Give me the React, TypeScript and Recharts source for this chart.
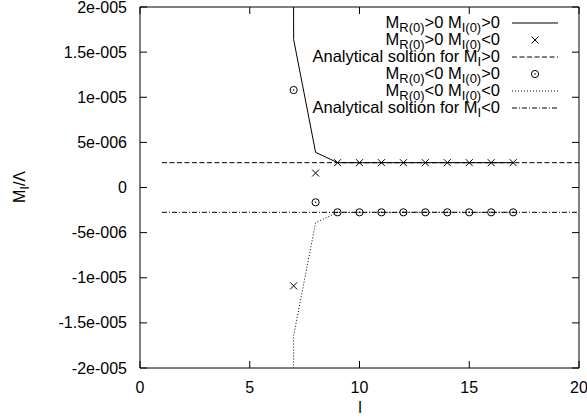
import { ComposedChart, Line, Scatter, XAxis, YAxis, ReferenceArea } from 'recharts';

const FONT = '"Liberation Sans", Arial, Helvetica, sans-serif';

// axis ticks
const xTicks = [0, 5, 10, 15, 20];
const xTickLabels = ['0', '5', '10', '15', '20'];
const yTicks = [-2e-5, -1.5e-5, -1e-5, -5e-6, 0, 5e-6, 1e-5, 1.5e-5, 2e-5];
const yTickLabels = ['-2e-005', '-1.5e-005', '-1e-005', '-5e-006', '0', '5e-006', '1e-005', '1.5e-005', '2e-005'];

// M_R(0)>0 M_I(0)>0 (solid), first point runs off the top
const ppL = [6, 7, 8, 9, 10, 11, 12, 13, 14, 15, 16, 17];
const ppV = [1e-3, 1.64e-5, 3.9e-6, 2.75e-6, 2.75e-6, 2.75e-6, 2.75e-6, 2.75e-6, 2.75e-6, 2.75e-6, 2.75e-6, 2.75e-6];

// M_R(0)>0 M_I(0)<0 (crosses)
const pnL = [7, 8, 9, 10, 11, 12, 13, 14, 15, 16, 17];
const pnV = [-1.09e-5, 1.6e-6, 2.75e-6, 2.75e-6, 2.75e-6, 2.75e-6, 2.75e-6, 2.75e-6, 2.75e-6, 2.75e-6, 2.75e-6];

// M_R(0)<0 M_I(0)>0 (circles)
const npL = [7, 8, 9, 10, 11, 12, 13, 14, 15, 16, 17];
const npV = [1.08e-5, -1.64e-6, -2.75e-6, -2.75e-6, -2.75e-6, -2.75e-6, -2.75e-6, -2.75e-6, -2.75e-6, -2.75e-6, -2.75e-6];

// M_R(0)<0 M_I(0)<0 (dotted)
const nnL = [6, 7, 8, 9, 10, 11, 12, 13, 14, 15, 16, 17];
const nnV = [-1e-3, -1.64e-5, -3.9e-6, -2.75e-6, -2.75e-6, -2.75e-6, -2.75e-6, -2.75e-6, -2.75e-6, -2.75e-6, -2.75e-6, -2.75e-6];

// analytical solutions
const anaL = [1, 20];
const anaPosV = [2.75e-6, 2.75e-6];
const anaNegV = [-2.75e-6, -2.75e-6];

const zip = (ls: number[], vs: number[]) => ls.map((l, i) => ({ l, v: vs[i] }));

const W = 587;
const H = 418;
const LEFT = 140;
const RIGHT = 579;
const TOP = 7;
const BOTTOM = 368;
const TICK = 7;

const Cross = ({ cx, cy }: any) => (
  <g stroke="#000" strokeWidth={1}>
    <line x1={cx - 3.5} y1={cy - 3.5} x2={cx + 3.5} y2={cy + 3.5} />
    <line x1={cx - 3.5} y1={cy + 3.5} x2={cx + 3.5} y2={cy - 3.5} />
  </g>
);

const DotCircle = ({ cx, cy }: any) => (
  <g>
    <circle cx={cx} cy={cy} r={3.6} fill="none" stroke="#000" strokeWidth={1} />
    <circle cx={cx} cy={cy} r={0.8} fill="#000" />
  </g>
);

const XTick = ({ x, index }: any) => (
  <g>
    <line x1={x} y1={BOTTOM} x2={x} y2={BOTTOM - TICK} stroke="#000" />
    <line x1={x} y1={TOP} x2={x} y2={TOP + TICK} stroke="#000" />
    <text x={x} y={BOTTOM + 25} textAnchor="middle" fontSize={16} fontFamily={FONT} fill="#000">
      {xTickLabels[index]}
    </text>
  </g>
);

const YTick = ({ y, index }: any) => (
  <g>
    <line x1={LEFT} y1={y} x2={LEFT + TICK} y2={y} stroke="#000" />
    <line x1={RIGHT} y1={y} x2={RIGHT - TICK} y2={y} stroke="#000" />
    <text x={LEFT - 13} y={y + 5.5} textAnchor="end" fontSize={16} fontFamily={FONT} fill="#000">
      {yTickLabels[index]}
    </text>
  </g>
);

const Sub = ({ children }: any) => (
  <>
    <tspan dy={4} fontSize={13}>{children}</tspan>
    <tspan dy={-4}>{'\u200b'}</tspan>
  </>
);

const legendRows = [
  { y: 23, kind: 'solid' },
  { y: 40, kind: 'cross' },
  { y: 57, kind: 'dash' },
  { y: 74, kind: 'circle' },
  { y: 91, kind: 'dot' },
  { y: 108, kind: 'dashdot' },
];

const rowText = (i: number) => {
  switch (i) {
    case 0:
      return (<>M<Sub>R(0)</Sub>&gt;0 M<Sub>I(0)</Sub>&gt;0</>);
    case 1:
      return (<>M<Sub>R(0)</Sub>&gt;0 M<Sub>I(0)</Sub>&lt;0</>);
    case 2:
      return (<>Analytical soltion for M<Sub>I</Sub>&gt;0</>);
    case 3:
      return (<>M<Sub>R(0)</Sub>&lt;0 M<Sub>I(0)</Sub>&gt;0</>);
    case 4:
      return (<>M<Sub>R(0)</Sub>&lt;0 M<Sub>I(0)</Sub>&lt;0</>);
    default:
      return (<>Analytical soltion for M<Sub>I</Sub>&lt;0</>);
  }
};

const dashFor: Record<string, string | undefined> = {
  solid: undefined,
  dash: '5 2.5',
  dot: '1 2',
  dashdot: '5 2 1 2',
};

export default function App() {
  return (
    <div style={{ position: 'absolute', left: 0, top: 0, width: W, height: H, background: '#fff' }}>
      <ComposedChart width={W} height={H} margin={{ top: TOP, right: W - RIGHT, bottom: 0, left: 0 }}>
        <XAxis
          dataKey="l"
          type="number"
          domain={[0, 20]}
          ticks={xTicks}
          height={H - BOTTOM}
          axisLine={false}
          tickLine={false}
          tickSize={0}
          tickMargin={0}
          tick={<XTick />}
          interval={0}
        />
        <YAxis
          dataKey="v"
          type="number"
          domain={[-2e-5, 2e-5]}
          ticks={yTicks}
          width={LEFT}
          allowDataOverflow
          axisLine={false}
          tickLine={false}
          tickSize={0}
          tickMargin={0}
          tick={<YTick />}
          interval={0}
        />
        <ReferenceArea x1={0} x2={20} y1={-2e-5} y2={2e-5} fill="none" fillOpacity={0} stroke="#000" strokeWidth={1} />
        <Line data={zip(anaL, anaPosV)} dataKey="v" stroke="#000" strokeWidth={1} strokeDasharray="5 2.5" dot={false} isAnimationActive={false} />
        <Line data={zip(anaL, anaNegV)} dataKey="v" stroke="#000" strokeWidth={1} strokeDasharray="5 2 1 2" dot={false} isAnimationActive={false} />
        <Line data={zip(ppL, ppV)} dataKey="v" stroke="#000" strokeWidth={1} dot={false} isAnimationActive={false} />
        <Line data={zip(nnL, nnV)} dataKey="v" stroke="#000" strokeWidth={1} strokeDasharray="1 2" dot={false} isAnimationActive={false} />
        <Scatter data={zip(pnL, pnV)} dataKey="v" shape={(p: any) => <Cross cx={p.cx} cy={p.cy} />} isAnimationActive={false} />
        <Scatter data={zip(npL, npV)} dataKey="v" shape={(p: any) => <DotCircle cx={p.cx} cy={p.cy} />} isAnimationActive={false} />
      </ComposedChart>
      <svg width={W} height={H} style={{ position: 'absolute', left: 0, top: 0, pointerEvents: 'none' }}>
        <g fontFamily={FONT} fontSize={16.5} fill="#000">
          {legendRows.map((r, i) => (
            <g key={i}>
              <text x={500} y={r.y + 5} textAnchor="end">{rowText(i)}</text>
              {r.kind === 'cross' ? (
                <Cross cx={535} cy={r.y} />
              ) : r.kind === 'circle' ? (
                <DotCircle cx={535} cy={r.y} />
              ) : (
                <line x1={512} y1={r.y} x2={558} y2={r.y} stroke="#000" strokeWidth={1} strokeDasharray={dashFor[r.kind]} />
              )}
            </g>
          ))}
        </g>
        <g fontFamily={FONT} fontSize={16} fill="#000">
          <text x={360} y={413} textAnchor="middle">l</text>
          <text x={25} y={187} textAnchor="middle" transform="rotate(-90 25 187)">
            M<Sub>I</Sub>/Λ
          </text>
        </g>
      </svg>
    </div>
  );
}
